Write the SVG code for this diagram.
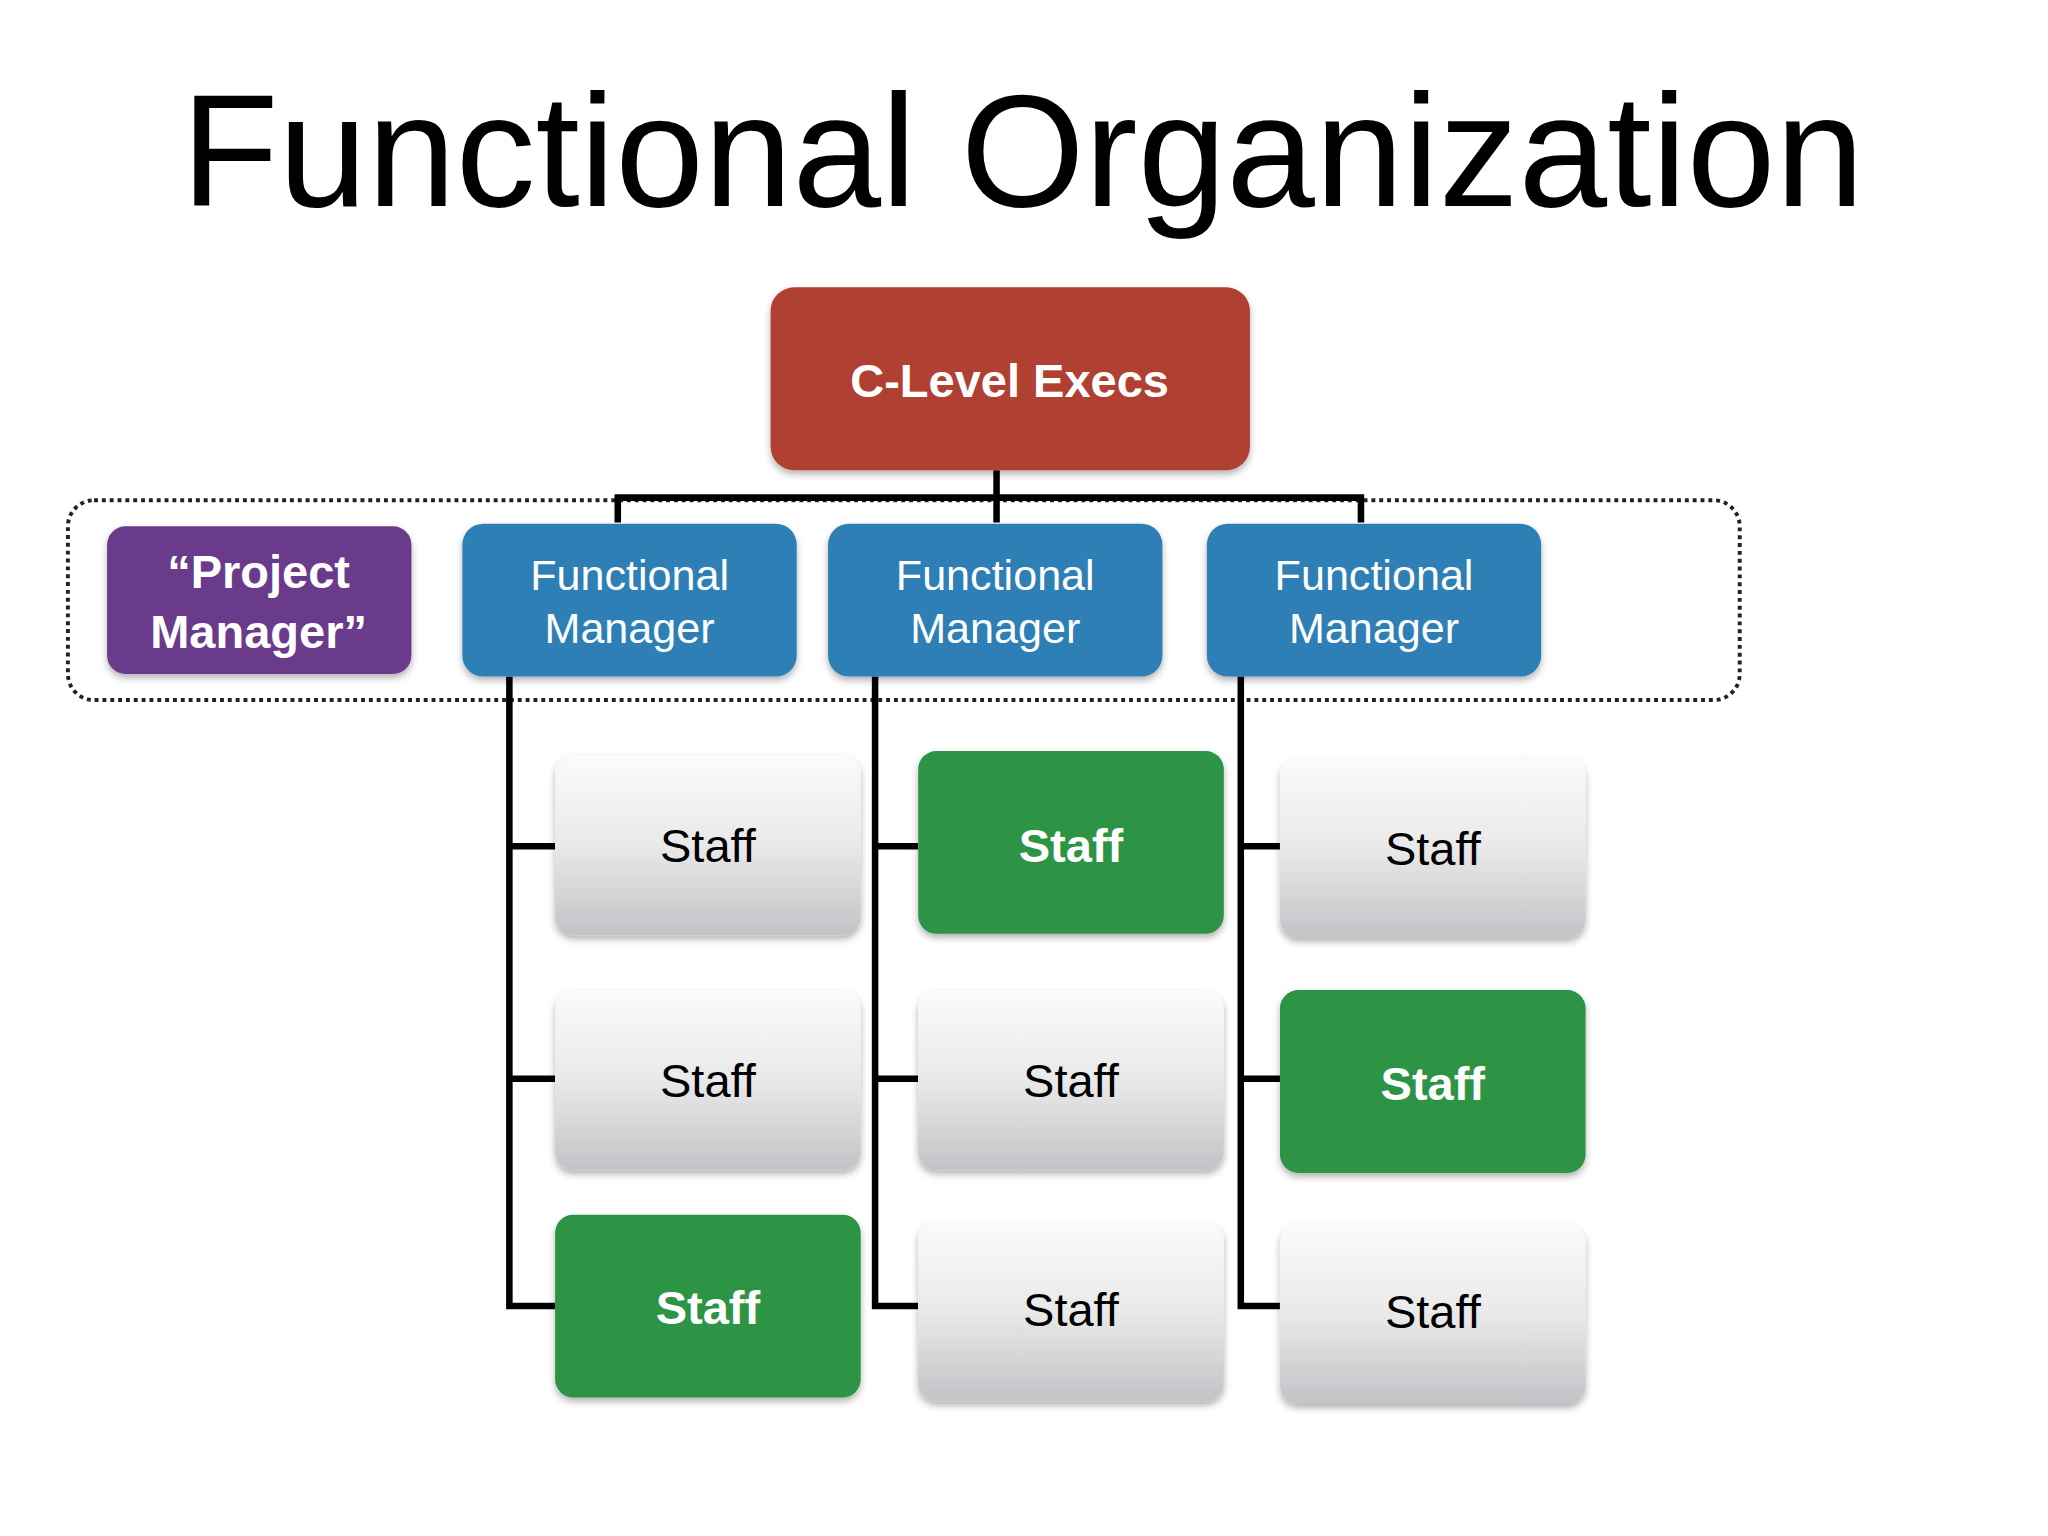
<svg xmlns="http://www.w3.org/2000/svg" width="2048" height="1536" viewBox="0 0 2048 1536">
<defs>
<linearGradient id="g" x1="0" y1="0" x2="0" y2="1"><stop offset="0" stop-color="#fbfbfb"/><stop offset="0.5" stop-color="#e9e9ea"/><stop offset="1" stop-color="#c3c2c6"/></linearGradient>
<filter id="sh" x="-10%" y="-10%" width="120%" height="130%"><feDropShadow dx="0" dy="3" stdDeviation="3" flood-opacity="0.3"/></filter>
</defs>
<style>
.t{font-family:"Liberation Sans",Arial,sans-serif;text-anchor:middle}
.w{fill:#fff}
.b{font-weight:bold}
.ln{stroke:#000;stroke-width:5;fill:none}
.grey{fill:url(#g);filter:url(#sh)}
.green{fill:#2f9444;filter:url(#sh)}
.fm{fill:#2e7fb5;filter:url(#sh)}
</style>
<rect width="2048" height="1536" fill="#fff"/>
<g transform="scale(1.3061)">
<text class="t" x="783" y="158" font-size="122">Functional Organization</text>
<rect x="52" y="383" width="1280" height="153" rx="20" fill="none" stroke="#222" stroke-width="3" stroke-dasharray="3,3"/>
<g id="connectors">
<path class="ln" d="M763 360V381M473 400V381H1042V400M763 381V400"/>
<path class="ln" d="M390 518V1000H425M390 648H425M390 826H425"/>
<path class="ln" d="M670 518V1000H703M670 648H703M670 826H703"/>
<path class="ln" d="M950 518V1000H980M950 648H980M950 826H980"/>
</g>
<g id="clevel"><rect x="590" y="220" width="367" height="140" rx="18" fill="#b04032" style="filter:url(#sh)"/><text class="t w b" x="773" y="304" font-size="36">C-Level Execs</text></g>
<g id="pm"><rect x="82" y="403" width="233" height="113" rx="14" fill="#6b3a8a" style="filter:url(#sh)"/><text class="t w b" x="198" y="450" font-size="36">“Project</text><text class="t w b" x="198" y="496" font-size="36">Manager”</text></g>
<g id="fm1"><rect class="fm" x="354" y="401" width="256" height="117" rx="16"/><text class="t w" x="482" y="452" font-size="33">Functional</text><text class="t w" x="482" y="492" font-size="33">Manager</text></g>
<g id="fm2"><rect class="fm" x="634" y="401" width="256" height="117" rx="16"/><text class="t w" x="762" y="452" font-size="33">Functional</text><text class="t w" x="762" y="492" font-size="33">Manager</text></g>
<g id="fm3"><rect class="fm" x="924" y="401" width="256" height="117" rx="16"/><text class="t w" x="1052" y="452" font-size="33">Functional</text><text class="t w" x="1052" y="492" font-size="33">Manager</text></g>
<g id="s11"><rect class="grey" x="425" y="578" width="234" height="138" rx="14"/><text class="t" x="542" y="660" font-size="36">Staff</text></g>
<g id="s12"><rect class="grey" x="425" y="758" width="234" height="138" rx="14"/><text class="t" x="542" y="840" font-size="36">Staff</text></g>
<g id="s13"><rect class="green" x="425" y="930" width="234" height="140" rx="14"/><text class="t w b" x="542" y="1014" font-size="36">Staff</text></g>
<g id="s21"><rect class="green" x="703" y="575" width="234" height="140" rx="14"/><text class="t w b" x="820" y="660" font-size="36">Staff</text></g>
<g id="s22"><rect class="grey" x="703" y="758" width="234" height="138" rx="14"/><text class="t" x="820" y="840" font-size="36">Staff</text></g>
<g id="s23"><rect class="grey" x="703" y="935" width="234" height="138" rx="14"/><text class="t" x="820" y="1015" font-size="36">Staff</text></g>
<g id="s31"><rect class="grey" x="980" y="580" width="234" height="138" rx="14"/><text class="t" x="1097" y="662" font-size="36">Staff</text></g>
<g id="s32"><rect class="green" x="980" y="758" width="234" height="140" rx="14"/><text class="t w b" x="1097" y="842" font-size="36">Staff</text></g>
<g id="s33"><rect class="grey" x="980" y="937" width="234" height="138" rx="14"/><text class="t" x="1097" y="1017" font-size="36">Staff</text></g>
</g>
</svg>
